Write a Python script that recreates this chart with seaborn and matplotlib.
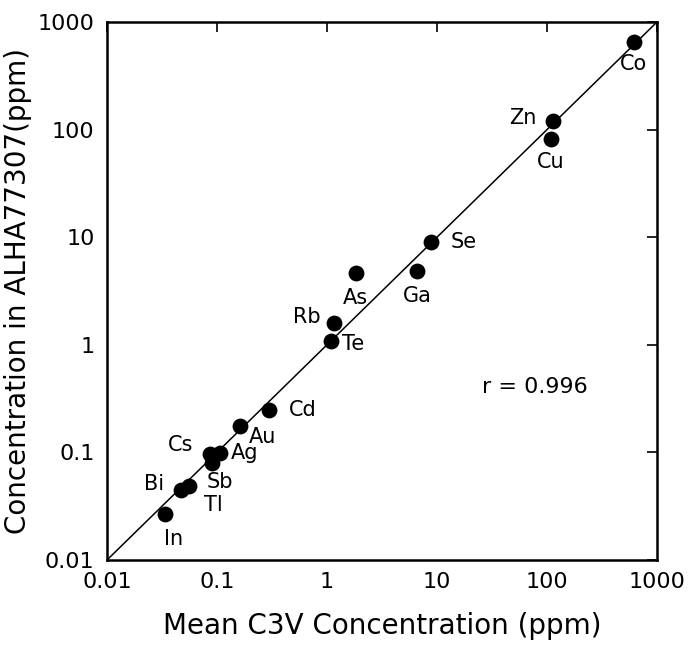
import matplotlib
matplotlib.use("Agg")
import matplotlib.pyplot as plt
import seaborn as sns
import pandas as pd

elements = ["Co", "Zn", "Cu", "Se", "As", "Ga", "Rb", "Te", "Cd", "Au",
            "Ag", "Cs", "Sb", "Bi", "Tl", "In"]
c3v = [617, 113, 109, 8.8, 1.83, 6.6, 1.16, 1.09, 0.297, 0.162,
       0.106, 0.086, 0.090, 0.047, 0.056, 0.034]
alha = [650, 120, 82, 9.0, 4.6, 4.8, 1.6, 1.08, 0.248, 0.176,
        0.099, 0.097, 0.080, 0.045, 0.049, 0.027]
tick_vals = [0.01, 0.1, 1, 10, 100, 1000]
tick_labels = ["0.01", "0.1", "1", "10", "100", "1000"]

# label offsets in points (dx, dy) and alignment
offsets = {
    "Co": (0, -16, "center"), "Zn": (-12, 2, "right"), "Cu": (0, -17, "center"),
    "Se": (14, 0, "left"), "As": (0, -18, "center"), "Ga": (0, -18, "center"),
    "Rb": (-10, 4, "right"), "Te": (8, -2, "left"), "Cd": (14, 0, "left"),
    "Au": (6, -8, "left"), "Ag": (8, 0, "left"), "Cs": (-12, 6, "right"),
    "Sb": (6, -14, "center"), "Bi": (-12, 4, "right"), "Tl": (17, -14, "center"),
    "In": (6, -18, "center"),
}

df = pd.DataFrame({"element": elements, "c3v": c3v, "alha": alha})

sns.set_style("white")
plt.rcParams["font.family"] = ["DejaVu Sans"]
plt.rcParams["text.color"] = "black"
plt.rcParams["axes.labelcolor"] = "black"

fig = plt.figure(figsize=(6.89, 6.47), dpi=100)
ax = fig.add_axes([107/689, 1 - 560/647, 550/689, 538/647])

ax.plot([0.01, 1000], [0.01, 1000], color="black", lw=1.1, zorder=1)
sns.scatterplot(data=df, x="c3v", y="alha", color="black", s=130,
                edgecolor="black", linewidth=0, ax=ax, zorder=2)

for el, x, y in zip(elements, c3v, alha):
    dx, dy, ha = offsets[el]
    ax.annotate(el, (x, y), xytext=(dx, dy), textcoords="offset points",
                ha=ha, va="center", fontsize=15, color="black")

ax.set_xscale("log")
ax.set_yscale("log")
ax.set_xlim(0.01, 1000)
ax.set_ylim(0.01, 1000)
ax.set_xticks(tick_vals)
ax.set_xticklabels(tick_labels)
ax.set_yticks(tick_vals)
ax.set_yticklabels(tick_labels)
ax.minorticks_off()
ax.tick_params(direction="in", length=7, width=1.2, top=True, right=True,
               labelsize=16, colors="black", pad=9)
for s in ax.spines.values():
    s.set_color("black")
    s.set_linewidth(1.8)

ax.set_xlabel("Mean C3V Concentration (ppm)", fontsize=20, labelpad=14,
              color="black")
ax.set_ylabel("Concentration in ALHA77307(ppm)", fontsize=20, labelpad=4,
              color="black")

ax.text(535/689, 1 - 387/647, "r = 0.996", transform=fig.transFigure,
        ha="center", va="center", fontsize=16, color="black")

fig.savefig("out.png", dpi=100)
